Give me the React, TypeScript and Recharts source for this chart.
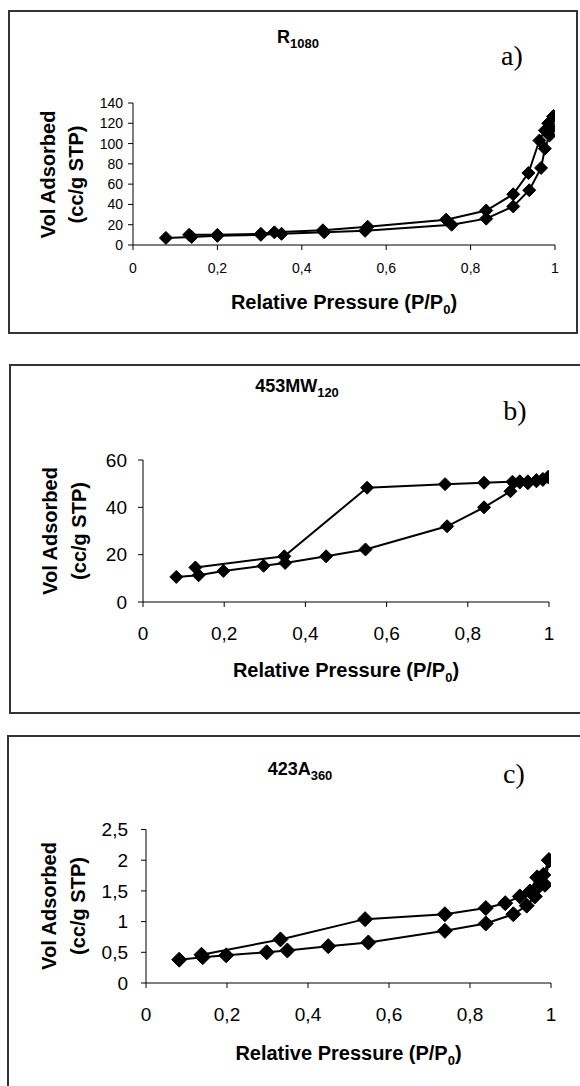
import React from 'react';
import { ScatterChart, Scatter, XAxis, YAxis } from 'recharts';

// ---------- data ----------
const xTicks = [0, 0.2, 0.4, 0.6, 0.8, 1];

const aTitle = 'R';
const aTitleSub = '1080';
const aTag = 'a)';
const aYTicks = [0, 20, 40, 60, 80, 100, 120, 140];
const aAdsX = [0.078, 0.139, 0.2, 0.303, 0.352, 0.453, 0.55, 0.755, 0.837, 0.901, 0.939, 0.967, 0.976, 0.987, 0.992, 0.996];
const aAdsY = [7, 8, 9, 10, 11, 12.5, 14, 20, 26, 38, 54, 76, 95, 108, 115, 127];
const aDesX = [0.996, 0.984, 0.976, 0.963, 0.937, 0.901, 0.837, 0.742, 0.556, 0.45, 0.335, 0.303, 0.2, 0.133];
const aDesY = [127, 120, 113, 103, 71, 50, 34, 25, 18, 14.5, 12.5, 11, 10, 10];

const bTitle = '453MW';
const bTitleSub = '120';
const bTag = 'b)';
const bYTicks = [0, 20, 40, 60];
const bAdsX = [0.082, 0.137, 0.198, 0.297, 0.35, 0.451, 0.548, 0.749, 0.84, 0.905, 0.928, 0.948, 0.969, 0.985, 0.998];
const bAdsY = [10.6, 11.3, 13.1, 15.3, 16.5, 19.3, 22.2, 32, 40, 46.8, 50.5, 50.2, 51, 51.6, 52.8];
const bDesX = [0.998, 0.985, 0.969, 0.948, 0.928, 0.91, 0.84, 0.744, 0.552, 0.348, 0.129];
const bDesY = [52.8, 52, 51.5, 51, 51, 50.8, 50.4, 49.8, 48.3, 19.3, 14.6];

const cTitle = '423A';
const cTitleSub = '360';
const cTag = 'c)';
const cYTicks = [0, 0.5, 1, 1.5, 2, 2.5];
const cAdsX = [0.082, 0.14, 0.198, 0.298, 0.349, 0.45, 0.549, 0.738, 0.839, 0.907, 0.94, 0.96, 0.969, 0.985, 0.995];
const cAdsY = [0.38, 0.42, 0.45, 0.5, 0.53, 0.6, 0.66, 0.85, 0.97, 1.12, 1.26, 1.41, 1.57, 1.6, 2.0];
const cDesX = [0.995, 0.981, 0.966, 0.948, 0.923, 0.887, 0.839, 0.738, 0.541, 0.332, 0.137];
const cDesY = [2.0, 1.76, 1.72, 1.49, 1.41, 1.3, 1.22, 1.12, 1.04, 0.71, 0.46];

const xTitle = 'Relative Pressure (P/P';
const xTitleSub = '0';
const yTitle1 = 'Vol Adsorbed';
const yTitle2 = '(cc/g STP)';

// ---------- helpers ----------
const FONT = '"Liberation Sans", Arial, sans-serif';
const SERIF = '"Liberation Serif", "Times New Roman", serif';
const fmt = (v: number) => String(v).replace('.', ',');
const zip = (xs: number[], ys: number[]) => xs.map((x, i) => ({ x, y: ys[i] }));

const makeDiamond = (r: number) => (props: any) => {
  const { cx, cy } = props;
  if (cx == null || cy == null) return <g />;
  return (
    <polygon
      points={`${cx},${cy - r} ${cx + r},${cy} ${cx},${cy + r} ${cx - r},${cy}`}
      fill="#000"
      stroke="#000"
      strokeWidth={1}
    />
  );
};

type PanelCfg = {
  top: number;
  height: number;
  margin: { top: number; right: number; bottom: number; left: number };
  yMax: number;
  yTicks: number[];
  ads: { x: number; y: number }[];
  des: { x: number; y: number }[];
  tickFont: number;
  xTickMargin: number;
  yTickMargin: number;
  r: number;
};

function Panel({ cfg }: { cfg: PanelCfg }) {
  const tickStyle = { fill: '#000', fontSize: cfg.tickFont, fontFamily: FONT };
  const diamond = makeDiamond(cfg.r);
  return (
    <div style={{ position: 'absolute', left: 0, top: cfg.top }}>
      <ScatterChart width={580} height={cfg.height} margin={cfg.margin}>
        <XAxis
          type="number"
          dataKey="x"
          domain={[0, 1]}
          ticks={xTicks}
          interval={0}
          tickFormatter={fmt}
          tickSize={5}
          tickMargin={cfg.xTickMargin}
          height={40}
          axisLine={{ stroke: '#000', strokeWidth: 1 }}
          tickLine={{ stroke: '#000', strokeWidth: 1 }}
          tick={tickStyle}
          allowDataOverflow
        />
        <YAxis
          type="number"
          dataKey="y"
          domain={[0, cfg.yMax]}
          ticks={cfg.yTicks}
          interval={0}
          tickFormatter={fmt}
          tickSize={5}
          tickMargin={cfg.yTickMargin}
          width={60}
          axisLine={{ stroke: '#000', strokeWidth: 1 }}
          tickLine={{ stroke: '#000', strokeWidth: 1 }}
          tick={tickStyle}
          allowDataOverflow
        />
        <Scatter
          data={cfg.ads}
          line={{ stroke: '#000', strokeWidth: 2 }}
          shape={diamond}
          fill="#000"
          isAnimationActive={false}
        />
        <Scatter
          data={cfg.des}
          line={{ stroke: '#000', strokeWidth: 2 }}
          shape={diamond}
          fill="#000"
          isAnimationActive={false}
        />
      </ScatterChart>
    </div>
  );
}

function Labels({
  titleX, titleY, title, sub, tagX, tagY, tag, xTitleX, xTitleY, yTitleY, yb1, yb2,
}: any) {
  return (
    <g fontFamily={FONT} fill="#000">
      <text x={titleX} y={titleY} textAnchor="middle" fontWeight="bold" fontSize={18}>
        {title}
        <tspan dy={5} fontSize={13}>{sub}</tspan>
      </text>
      <text x={tagX} y={tagY} textAnchor="middle" fontFamily={SERIF} fontSize={28}>{tag}</text>
      <text x={xTitleX} y={xTitleY} textAnchor="middle" fontWeight="bold" fontSize={20}>
        {xTitle}
        <tspan dy={5} fontSize={13}>{xTitleSub}</tspan>
        <tspan dy={-5}>)</tspan>
      </text>
      <text transform={`translate(${yb1},${yTitleY}) rotate(-90)`} textAnchor="middle" fontWeight="bold" fontSize={20}>
        {yTitle1}
      </text>
      <text transform={`translate(${yb2},${yTitleY}) rotate(-90)`} textAnchor="middle" fontWeight="bold" fontSize={20}>
        {yTitle2}
      </text>
    </g>
  );
}

const panelA: PanelCfg = {
  top: 0, height: 340,
  margin: { top: 103, right: 25, bottom: 55, left: 73 },
  yMax: 140, yTicks: aYTicks,
  ads: zip(aAdsX, aAdsY), des: zip(aDesX, aDesY),
  tickFont: 14, xTickMargin: 13, yTickMargin: 5, r: 6.5,
};
const panelB: PanelCfg = {
  top: 350, height: 360,
  margin: { top: 110, right: 31, bottom: 68, left: 83 },
  yMax: 60, yTicks: bYTicks,
  ads: zip(bAdsX, bAdsY), des: zip(bDesX, bDesY),
  tickFont: 19, xTickMargin: 20, yTickMargin: 11, r: 6.5,
};
const panelC: PanelCfg = {
  top: 720, height: 366,
  margin: { top: 109.5, right: 29, bottom: 63, left: 86 },
  yMax: 2.5, yTicks: cYTicks,
  ads: zip(cAdsX, cAdsY), des: zip(cDesX, cDesY),
  tickFont: 19, xTickMargin: 20, yTickMargin: 13, r: 7.5,
};

export default function App() {
  return (
    <div style={{ position: 'absolute', left: 0, top: 0, width: 580, height: 1086, overflow: 'hidden', background: '#fff' }}>
      <div style={{ position: 'absolute', left: 8, top: 10, width: 570, height: 324, border: '2px solid #333', boxSizing: 'border-box' }} />
      <div style={{ position: 'absolute', left: 9, top: 364, width: 620, height: 350, border: '2px solid #333', boxSizing: 'border-box' }} />
      <div style={{ position: 'absolute', left: 7, top: 735, width: 620, height: 400, border: '2px solid #333', boxSizing: 'border-box' }} />
      <Panel cfg={panelA} />
      <Panel cfg={panelB} />
      <Panel cfg={panelC} />
      <svg width={580} height={1086} style={{ position: 'absolute', left: 0, top: 0, pointerEvents: 'none' }}>
        <Labels titleX={298} titleY={43} title={aTitle} sub={aTitleSub} tagX={512} tagY={65} tag={aTag}
          xTitleX={344} xTitleY={309} yTitleY={174.5} yb1={55} yb2={83} />
        <Labels titleX={297} titleY={392} title={bTitle} sub={bTitleSub} tagX={515} tagY={420} tag={bTag}
          xTitleX={346} xTitleY={677} yTitleY={531} yb1={57} yb2={86} />
        <Labels titleX={300} titleY={775} title={cTitle} sub={cTitleSub} tagX={514} tagY={783} tag={cTag}
          xTitleX={348.5} xTitleY={1060} yTitleY={906} yb1={55.5} yb2={85} />
      </svg>
    </div>
  );
}
